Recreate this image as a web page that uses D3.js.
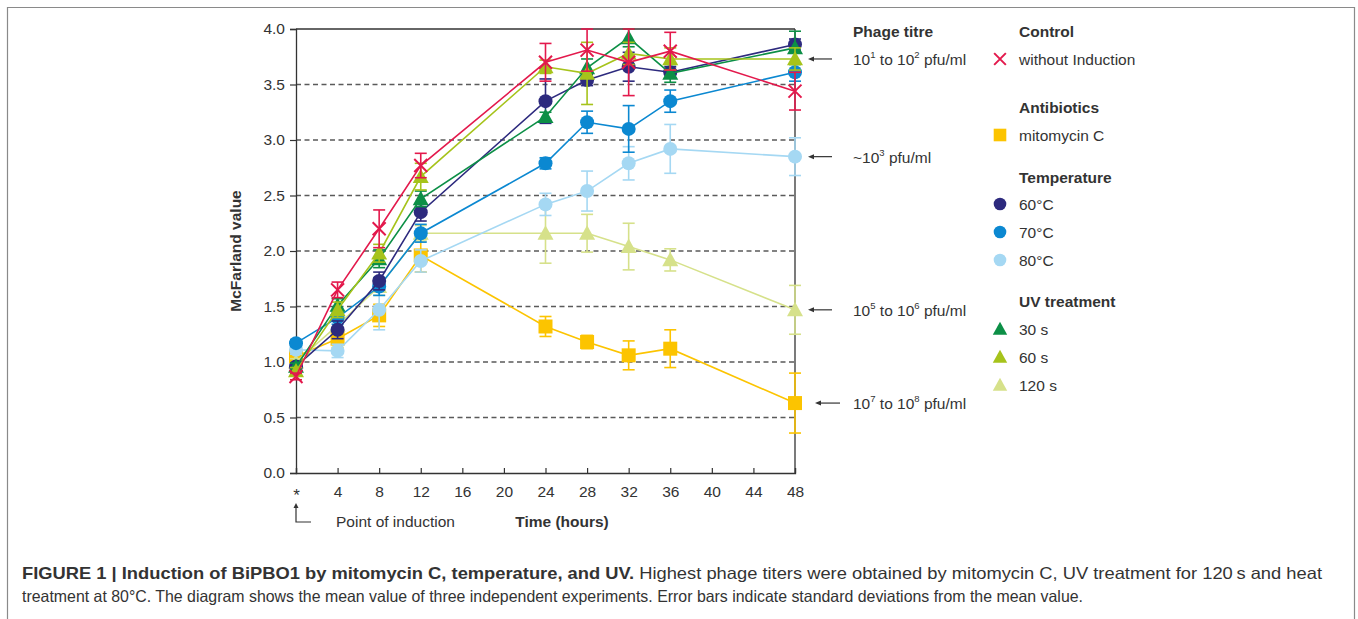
<!DOCTYPE html>
<html><head><meta charset="utf-8">
<script src="https://d3js.org/d3.v7.min.js"></script>
<style>
body{margin:0;background:#fff;}
svg{display:block;font-family:"Liberation Sans",Arial,sans-serif;}
</style></head>
<body>
<svg id="c" width="1358" height="619"></svg>
<script>
// ---------- data ----------
const times = [0, 4, 8, 12, 24, 28, 32, 36, 48];
const xTicks = [0, 4, 8, 12, 16, 20, 24, 28, 32, 36, 40, 44, 48];
const xTickLabels = ["*", "4", "8", "12", "16", "20", "24", "28", "32", "36", "40", "44", "48"];
const yTicks = [0, 0.5, 1, 1.5, 2, 2.5, 3, 3.5, 4];

const seriesNames = ["mitomycin C", "120 s", "80°C", "70°C", "60°C", "30 s", "60 s", "without Induction"];
const mitomycin    = [1.05, 1.21, 1.42, 1.96, 1.32, 1.18, 1.06, 1.12, 0.63];
const mitomycinErr = [0.05, 0.08, 0.10, 0.15, 0.09, 0.06, 0.13, 0.17, 0.27];
const uv120        = [1.00, 1.33, 1.68, 2.16, 2.16, 2.16, 2.04, 1.92, 1.47];
const uv120Err     = [0.03, 0.06, 0.08, 0.07, 0.27, 0.17, 0.21, 0.10, 0.22];
const temp80       = [1.11, 1.10, 1.47, 1.91, 2.42, 2.54, 2.79, 2.92, 2.85];
const temp80Err    = [0.04, 0.06, 0.18, 0.10, 0.10, 0.18, 0.15, 0.22, 0.17];
const temp70       = [1.17, 1.40, 1.68, 2.16, 2.79, 3.16, 3.10, 3.35, 3.61];
const temp70Err    = [0.03, 0.06, 0.08, 0.08, 0.05, 0.10, 0.21, 0.10, 0.08];
const temp60       = [0.96, 1.29, 1.73, 2.35, 3.35, 3.54, 3.66, 3.61, 3.86];
const temp60Err    = [0.03, 0.08, 0.08, 0.08, 0.20, 0.05, 0.13, 0.05, 0.05];
const uv30         = [0.96, 1.51, 1.93, 2.47, 3.21, 3.65, 3.92, 3.60, 3.83];
const uv30Err      = [0.03, 0.06, 0.08, 0.07, 0.04, 0.08, 0.08, 0.08, 0.15];
const uv60         = [0.92, 1.47, 1.98, 2.67, 3.66, 3.60, 3.78, 3.73, 3.73];
const uv60Err      = [0.03, 0.07, 0.08, 0.12, 0.06, 0.28, 0.10, 0.10, 0.10];
const control      = [0.87, 1.65, 2.20, 2.77, 3.70, 3.81, 3.70, 3.80, 3.44];
const controlErr   = [0.03, 0.07, 0.17, 0.11, 0.17, 0.19, 0.30, 0.17, 0.17];

const titreLabels = [
  {v: 3.73, parts: [["10"],["1","sup"],[" to 10"],["2","sup"],[" pfu/ml"]]},
  {v: 2.85, parts: [["~10"],["3","sup"],[" pfu/ml"]]},
  {v: 1.47, parts: [["10"],["5","sup"],[" to 10"],["6","sup"],[" pfu/ml"]]},
  {v: 0.63, parts: [["10"],["7","sup"],[" to 10"],["8","sup"],[" pfu/ml"]]}
];

// ---------- setup ----------
const colors = {
  "mitomycin C": "#fcc400", "120 s": "#d6e18a", "80°C": "#a5d8f3", "70°C": "#0b88d1",
  "60°C": "#2d2a7e", "30 s": "#0c8f46", "60 s": "#a6c31b", "without Induction": "#e3194c"
};
const shapes = {
  "mitomycin C": "square", "120 s": "tri", "80°C": "circle", "70°C": "circle",
  "60°C": "circle", "30 s": "tri", "60 s": "tri", "without Induction": "cross"
};
const seriesData = [
  [mitomycin, mitomycinErr], [uv120, uv120Err], [temp80, temp80Err], [temp70, temp70Err],
  [temp60, temp60Err], [uv30, uv30Err], [uv60, uv60Err], [control, controlErr]
];

const svg = d3.select("#c");
const textCol = "#333";
const FS = 15.5;
const L = 296, R = 795, T = 29, B = 473;
const x = d3.scaleLinear().domain([0, 48]).range([L, R]);
const y = d3.scaleLinear().domain([0, 4]).range([B, T]);

// outer frame
svg.append("path").attr("d", "M7.5,619 V7.5 H1354.5 V619")
  .attr("fill", "none").attr("stroke", "#8a8a8a").attr("stroke-width", 1.2);

// gridlines
svg.append("g").selectAll("line").data(yTicks.filter(v => v > 0 && v < 4)).join("line")
  .attr("x1", L).attr("x2", R).attr("y1", d => y(d)).attr("y2", d => y(d))
  .attr("stroke", "#5a5a5a").attr("stroke-width", 1.3).attr("stroke-dasharray", "5,3.5");

// frame top & right
svg.append("line").attr("x1", L).attr("x2", R).attr("y1", T).attr("y2", T).attr("stroke", "#333").attr("stroke-width", 1.3);
svg.append("line").attr("x1", R).attr("x2", R).attr("y1", T).attr("y2", B).attr("stroke", "#333").attr("stroke-width", 1.3);

// axes
const yAxis = d3.axisLeft(y).tickValues(yTicks).tickFormat(d3.format(".1f")).tickSize(6).tickPadding(5);
const gy = svg.append("g").attr("transform", `translate(${L},0)`).call(yAxis);
gy.select(".domain").attr("stroke", "#333").attr("stroke-width", 1.3);
gy.selectAll(".tick line").attr("stroke", "#333").attr("stroke-width", 1.2);
gy.selectAll("text").attr("font-size", FS).attr("fill", textCol).attr("font-family", "Liberation Sans, Arial, sans-serif");

const xAxis = d3.axisBottom(x).tickValues(xTicks).tickFormat((d, i) => xTickLabels[i]).tickSize(-5).tickPadding(13);
const gx = svg.append("g").attr("transform", `translate(0,${B})`).call(xAxis);
gx.select(".domain").attr("stroke", "#333").attr("stroke-width", 1.3);
gx.selectAll(".tick line").attr("stroke", "#333").attr("stroke-width", 1.2);
gx.selectAll("text").attr("font-size", FS).attr("fill", textCol).attr("font-family", "Liberation Sans, Arial, sans-serif");
gx.selectAll(".tick").filter((d, i) => i === 0).select("text").attr("font-size", 17).attr("dy", "0.9em");

// axis titles
svg.append("text").attr("transform", `translate(241,${(T + B) / 2}) rotate(-90)`)
  .attr("text-anchor", "middle").attr("font-size", FS).attr("font-weight", "bold").attr("fill", textCol)
  .text("McFarland value");
svg.append("text").attr("x", 562).attr("y", 527).attr("text-anchor", "middle")
  .attr("font-size", FS).attr("font-weight", "bold").attr("fill", textCol).text("Time (hours)");
svg.append("text").attr("x", 336).attr("y", 527).attr("font-size", FS).attr("fill", textCol).text("Point of induction");
// induction arrow
svg.append("path").attr("d", `M${x(0)},506 V522 H${x(0) + 15}`).attr("fill", "none").attr("stroke", "#333").attr("stroke-width", 1.2);
svg.append("path").attr("d", `M${x(0)},503 l-2.5,5 h5 z`).attr("fill", "#333");

// symbols
function drawSymbol(g, shape, cx, cy, col, s) {
  s = s || 1;
  if (shape === "circle") {
    g.append("circle").attr("cx", cx).attr("cy", cy).attr("r", 7 * s).attr("fill", col);
  } else if (shape === "square") {
    g.append("rect").attr("x", cx - 7 * s).attr("y", cy - 7 * s).attr("width", 14 * s).attr("height", 14 * s).attr("fill", col);
  } else if (shape === "tri") {
    const h = 8 * s;
    g.append("path").attr("d", `M${cx},${cy - h} L${cx + h},${cy + h * 0.8} L${cx - h},${cy + h * 0.8} Z`).attr("fill", col);
  } else if (shape === "cross") {
    const h = 6.5 * s;
    g.append("path").attr("d", `M${cx - h},${cy - h} L${cx + h},${cy + h} M${cx + h},${cy - h} L${cx - h},${cy + h}`)
      .attr("stroke", col).attr("stroke-width", 2).attr("fill", "none");
  }
}

const line = d3.line().x(d => x(d[0])).y(d => y(d[1]));
seriesNames.forEach((name, si) => {
  const [vals, errs] = seriesData[si];
  const col = colors[name];
  const g = svg.append("g");
  const pts = times.map((t, i) => [t, vals[i], errs[i]]);
  g.append("path").datum(pts).attr("d", line).attr("fill", "none").attr("stroke", col).attr("stroke-width", 1.6);
  // error bars
  pts.forEach(p => {
    const top = Math.min(4, p[1] + p[2]), bot = p[1] - p[2];
    const cx = x(p[0]);
    g.append("line").attr("x1", cx).attr("x2", cx).attr("y1", y(top)).attr("y2", y(bot)).attr("stroke", col).attr("stroke-width", 1.6);
    [top, bot].forEach(v => g.append("line").attr("x1", cx - 6).attr("x2", cx + 6).attr("y1", y(v)).attr("y2", y(v))
      .attr("stroke", col).attr("stroke-width", 1.6));
  });
  pts.forEach(p => drawSymbol(g, shapes[name], x(p[0]), y(p[1]), col));
});

// phage titre annotations
svg.append("text").attr("x", 853).attr("y", 37).attr("font-size", FS).attr("font-weight", "bold").attr("fill", textCol).text("Phage titre");
titreLabels.forEach((lab, i) => {
  const yy = y(lab.v);
  const x1 = i === 3 ? 815 : 808, x2 = i === 3 ? 840 : 832;
  svg.append("line").attr("x1", x1 + 4).attr("x2", x2).attr("y1", yy).attr("y2", yy).attr("stroke", "#333").attr("stroke-width", 1.2);
  svg.append("path").attr("d", `M${x1},${yy} l6,-2.5 v5 z`).attr("fill", "#333");
  const t = svg.append("text").attr("x", 853).attr("y", yy + 6).attr("font-size", FS).attr("fill", textCol);
  lab.parts.forEach((p, j) => {
    const prev = j > 0 ? lab.parts[j - 1] : null;
    const ts = t.append("tspan").text(p[0]);
    if (p[1] === "sup") ts.attr("font-size", 9.5).attr("dy", -7);
    else if (prev && prev[1] === "sup") ts.attr("dy", 7);
  });
});

// legend
const legendGroups = [
  {title: "Control", ty: 37, items: [["without Induction", 65]]},
  {title: "Antibiotics", ty: 113, items: [["mitomycin C", 141]]},
  {title: "Temperature", ty: 183, items: [["60°C", 210], ["70°C", 238], ["80°C", 266]]},
  {title: "UV treatment", ty: 307, items: [["30 s", 335], ["60 s", 363], ["120 s", 391]]}
];
legendGroups.forEach(gr => {
  svg.append("text").attr("x", 1019).attr("y", gr.ty).attr("font-size", FS).attr("font-weight", "bold").attr("fill", textCol).text(gr.title);
  gr.items.forEach(([name, yy]) => {
    const g = svg.append("g");
    drawSymbol(g, shapes[name], 1000, yy - 6, colors[name], 0.9);
    svg.append("text").attr("x", 1019).attr("y", yy).attr("font-size", FS).attr("fill", textCol).text(name);
  });
});

// caption
const cap1 = svg.append("text").attr("x", 22).attr("y", 579).attr("font-size", 16.5).attr("fill", textCol);
cap1.append("tspan").attr("font-weight", "bold").text("FIGURE 1 | Induction of BiPBO1 by mitomycin C, temperature, and UV.");
cap1.append("tspan").text(" Highest phage titers were obtained by mitomycin C, UV treatment for 120\u2009s and heat");
cap1.attr("textLength", 1322 - 22).attr("lengthAdjust", "spacingAndGlyphs");
svg.append("text").attr("x", 22).attr("y", 602).attr("font-size", 16.5).attr("fill", textCol)
  .attr("textLength", 1083 - 22).attr("lengthAdjust", "spacingAndGlyphs")
  .text("treatment at 80°C. The diagram shows the mean value of three independent experiments. Error bars indicate standard deviations from the mean value.");
</script>
</body></html>
